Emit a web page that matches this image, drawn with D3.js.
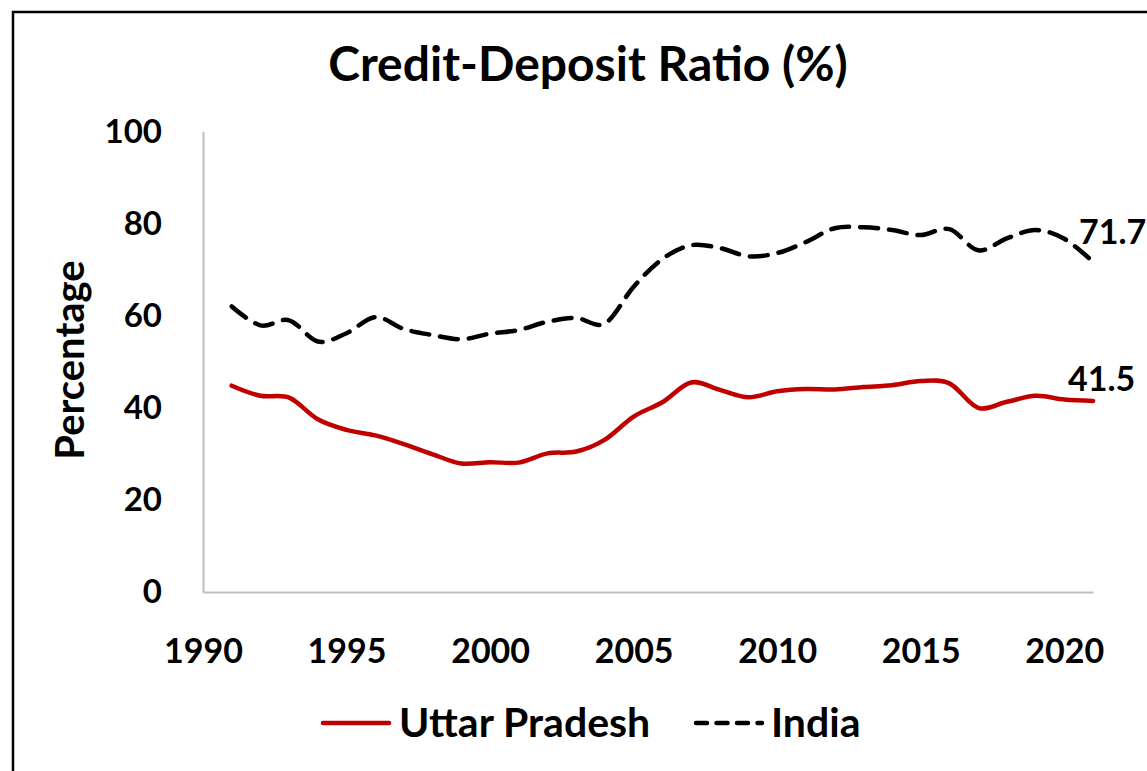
<!DOCTYPE html>
<html>
<head>
<meta charset="utf-8">
<script src="https://cdn.jsdelivr.net/npm/d3@7"></script>
<style>
  body { margin: 0; background: #fff; }
  svg { display: block; font-family: Lato, "Open Sans", sans-serif; font-weight: bold; }
</style>
</head>
<body>
<div id="chart"></div>
<script>
var years = [1991, 1992, 1993, 1994, 1995, 1996, 1997, 1998, 1999, 2000,
	2001, 2002, 2003, 2004, 2005, 2006, 2007, 2008, 2009, 2010,
	2011, 2012, 2013, 2014, 2015, 2016, 2017, 2018, 2019, 2020, 2021];
var uttar_pradesh = [44.8, 42.6, 42.2, 37.5, 35.2, 34.0, 32.1, 29.9, 27.9, 28.2,
	28.1, 30.1, 30.5, 33.1, 38.1, 41.2, 45.5, 43.9, 42.3, 43.6,
	44.1, 44.0, 44.5, 44.9, 45.8, 45.3, 40.0, 41.3, 42.6, 41.8, 41.5];
var india = [62.0, 57.9, 59.0, 54.4, 56.2, 59.7, 57.1, 55.8, 54.9, 56.1,
	56.9, 58.7, 59.5, 58.3, 66.3, 72.3, 75.3, 74.7, 72.9, 73.6,
	76.0, 79.0, 79.2, 78.6, 77.5, 78.8, 74.2, 76.8, 78.6, 76.7, 71.7];
var x_ticks = [1990, 1995, 2000, 2005, 2010, 2015, 2020];
var y_ticks = [0, 20, 40, 60, 80, 100];
var series_names = ['Uttar Pradesh', 'India'];

var width = 1147;
var height = 771;

var svg = d3.select('#chart')
	.append('svg')
	.attr('width', width)
	.attr('height', height);

// outer frame (right and bottom edges fall outside the picture)
svg.append('rect')
	.attr('x', 13).attr('y', 12)
	.attr('width', 1200).attr('height', 800)
	.attr('fill', 'none')
	.attr('stroke', '#000')
	.attr('stroke-width', 2.5);

var x_scale = d3.scaleLinear()
	.domain([1990, 2021])
	.range([203, 1093]);
var y_scale = d3.scaleLinear()
	.domain([0, 100])
	.range([592, 131.5]);

// title
svg.append('text')
	.attr('x', 588)
	.attr('y', 81)
	.attr('text-anchor', 'middle')
	.attr('font-size', 48)
	.text('Credit-Deposit Ratio (%)');

// axes
var y_axis = svg.append('g')
	.attr('transform', 'translate(203,0)')
	.call(d3.axisLeft(y_scale).tickValues(y_ticks).tickSize(0).tickPadding(41));
var x_axis = svg.append('g')
	.attr('transform', 'translate(0,592)')
	.call(d3.axisBottom(x_scale).tickValues(x_ticks).tickFormat(d3.format('d')).tickSize(0));

[y_axis, x_axis].forEach(function (g) {
	g.select('.domain').attr('stroke', '#bfbfbf').attr('stroke-width', 2);
	g.selectAll('text')
		.attr('fill', '#000')
		.attr('font-family', 'Lato, sans-serif')
		.attr('font-weight', 'bold')
		.attr('font-size', 34);
});
y_axis.selectAll('text').attr('font-size', 33);
x_axis.selectAll('text').attr('y', 71).attr('dy', null);

// y axis title
svg.append('text')
	.attr('transform', 'translate(84,360) rotate(-90)')
	.attr('text-anchor', 'middle')
	.attr('font-size', 40)
	.text('Percentage');

// lines
var line = d3.line()
	.x(function (d, i) { return x_scale(years[i]); })
	.y(function (d) { return y_scale(d); })
	.curve(d3.curveCardinal.tension(0));

svg.append('path')
	.datum(uttar_pradesh)
	.attr('d', line)
	.attr('fill', 'none')
	.attr('stroke', '#c00000')
	.attr('stroke-width', 4.5)
	.attr('stroke-linecap', 'round');

svg.append('path')
	.datum(india)
	.attr('d', line)
	.attr('fill', 'none')
	.attr('stroke', '#000')
	.attr('stroke-width', 4.5)
	.attr('stroke-dasharray', '18,11')
	.attr('stroke-linecap', 'round');

// end labels
var last = years.length - 1;
svg.append('text')
	.attr('x', x_scale(years[last]) - 14)
	.attr('y', y_scale(india[last]) - 18)
	.attr('font-size', 34)
	.text(india[last].toFixed(1));
svg.append('text')
	.attr('x', x_scale(years[last]) - 25)
	.attr('y', y_scale(uttar_pradesh[last]) - 10)
	.attr('font-size', 34)
	.text(uttar_pradesh[last].toFixed(1));

// legend
var legend = svg.append('g');
legend.append('line')
	.attr('x1', 323).attr('x2', 389)
	.attr('y1', 723).attr('y2', 723)
	.attr('stroke', '#c00000').attr('stroke-width', 4.5)
	.attr('stroke-linecap', 'round');
legend.append('text')
	.attr('x', 399).attr('y', 737)
	.attr('font-size', 41)
	.text(series_names[0]);
legend.append('line')
	.attr('x1', 696).attr('x2', 762)
	.attr('y1', 723).attr('y2', 723)
	.attr('stroke', '#000').attr('stroke-width', 4.5)
	.attr('stroke-dasharray', '11,9.5')
	.attr('stroke-linecap', 'round');
legend.append('text')
	.attr('x', 771).attr('y', 737)
	.attr('font-size', 41)
	.text(series_names[1]);
</script>
</body>
</html>
